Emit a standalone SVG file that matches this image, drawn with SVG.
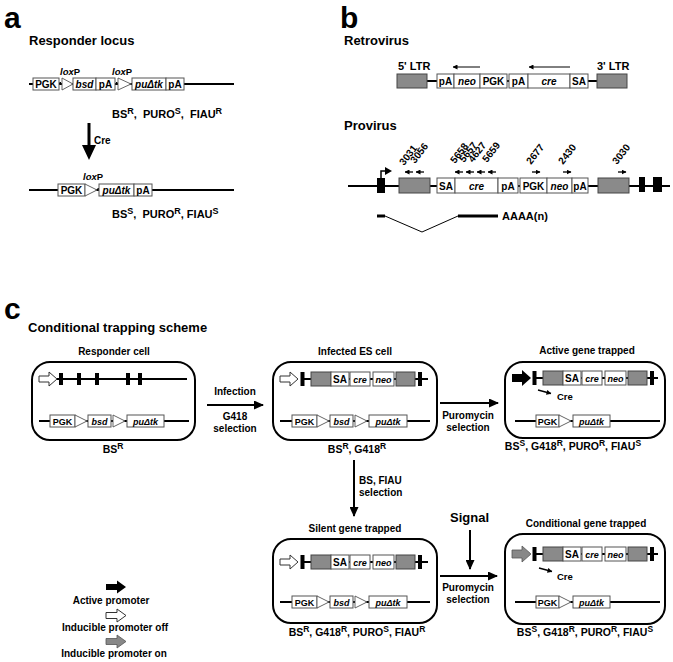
<svg xmlns="http://www.w3.org/2000/svg" width="673" height="662" viewBox="0 0 673 662">
<style>
text{font-family:"Liberation Sans",Arial,sans-serif;font-weight:bold;fill:#000}
.i{font-style:italic}
.m{text-anchor:middle}
.bx{fill:#fff;stroke:#555;stroke-width:1}
.gr{fill:#8a8a8a;stroke:#444;stroke-width:1}
.ln{stroke:#000;stroke-width:2;fill:none}
.tn{stroke:#000;stroke-width:1;fill:none}
.tri{fill:#fff;stroke:#555;stroke-width:0.9}
.cell{fill:none;stroke:#000;stroke-width:2}
.ex{fill:#000}
.bt{font-size:10px}
.ct{font-size:9px}
</style>
<defs>
<marker id="ah" viewBox="0 0 10 10" refX="9" refY="5" markerWidth="10" markerHeight="9" markerUnits="userSpaceOnUse" orient="auto" preserveAspectRatio="none"><path d="M0,0 L10,5 L0,10 z" fill="#000"/></marker>
<marker id="sm" viewBox="0 0 10 10" refX="9" refY="5" markerWidth="5" markerHeight="5" markerUnits="userSpaceOnUse" orient="auto" preserveAspectRatio="none"><path d="M0,0 L10,5 L0,10 z" fill="#000"/></marker>
</defs>

<!-- Panel a -->
<g id="panel-a">
<text x="4" y="28" font-size="30">a</text>
<text x="29" y="45" font-size="13">Responder locus</text>
<g id="locus1">
<line class="ln" x1="29" y1="84" x2="234" y2="84"/>
<rect class="bx" x="33" y="78" width="26" height="12"/>
<text class="m bt" x="46" y="88">PGK</text>
<rect class="ex" x="59.5" y="82" width="1.5" height="2"/>
<polygon class="tri" points="62,78 73,84 62,90"/>
<rect class="bx" x="73" y="78" width="23" height="12"/>
<text class="m bt i" x="84.5" y="88">bsd</text>
<rect class="bx" x="96" y="78" width="19" height="12"/>
<text class="m bt" x="105.5" y="88">pA</text>
<rect class="ex" x="116" y="82" width="1.5" height="2"/>
<polygon class="tri" points="118,78 131,84 118,90"/>
<rect class="bx" x="132" y="78" width="34" height="12"/>
<text class="m bt i" x="149" y="88">puΔtk</text>
<rect class="bx" x="166" y="78" width="18" height="12"/>
<text class="m bt" x="175" y="88">pA</text>
<text x="60" y="75" font-size="9.5"><tspan class="i">lox</tspan>P</text>
<text x="112" y="75" font-size="9.5"><tspan class="i">lox</tspan>P</text>
<text x="112" y="118" font-size="11" xml:space="preserve">BS<tspan dy="-4" font-size="9">R</tspan><tspan dy="4">,  PURO</tspan><tspan dy="-4" font-size="9">S</tspan><tspan dy="4">,  FIAU</tspan><tspan dy="-4" font-size="9">R</tspan></text>
</g>
<g id="cre-step">
<rect x="87.5" y="123" width="3" height="24" fill="#000"/>
<polygon points="82,145 96,145 89,160" fill="#000"/>
<text x="94" y="144" font-size="10">Cre</text>
</g>
<g id="locus2">
<line class="ln" x1="29" y1="190" x2="234" y2="190"/>
<rect class="bx" x="58" y="184" width="27" height="12"/>
<text class="m bt" x="71.5" y="194">PGK</text>
<polygon class="tri" points="85,184 97,190 85,196"/>
<rect class="ex" x="97.5" y="188" width="1.5" height="2"/>
<rect class="bx" x="99" y="184" width="35" height="12"/>
<text class="m bt i" x="116.5" y="194">puΔtk</text>
<rect class="bx" x="134" y="184" width="18" height="12"/>
<text class="m bt" x="143" y="194">pA</text>
<text x="83" y="180" font-size="9.5"><tspan class="i">lox</tspan>P</text>
<text x="112" y="218" font-size="11" xml:space="preserve">BS<tspan dy="-4" font-size="9">S</tspan><tspan dy="4">,  PURO</tspan><tspan dy="-4" font-size="9">R</tspan><tspan dy="4">, FIAU</tspan><tspan dy="-4" font-size="9">S</tspan></text>
</g>
</g>

<!-- Panel b -->
<g id="panel-b">
<text x="340" y="28" font-size="30">b</text>
<text x="344" y="45" font-size="13">Retrovirus</text>
<g id="retrovirus">
<text x="398" y="70" font-size="11">5' LTR</text>
<text x="597" y="70" font-size="11">3' LTR</text>
<line class="ln" x1="427" y1="81" x2="597" y2="81"/>
<rect class="gr" x="397" y="74" width="30" height="14"/>
<rect class="bx" x="437" y="74" width="17" height="14"/>
<text class="m bt" x="445.5" y="85">pA</text>
<rect class="bx" x="454" y="74" width="26" height="14"/>
<text class="m bt i" x="467" y="85">neo</text>
<rect class="bx" x="480" y="74" width="27" height="14"/>
<text class="m bt" x="493.5" y="85">PGK</text>
<rect class="bx" x="509" y="74" width="19" height="14"/>
<text class="m bt" x="518.5" y="85">pA</text>
<rect class="bx" x="528" y="74" width="42" height="14"/>
<text class="m bt i" x="549" y="85">cre</text>
<rect class="bx" x="570" y="74" width="18" height="14"/>
<text class="m bt" x="579" y="85">SA</text>
<rect class="gr" x="597" y="74" width="30" height="14"/>
<line class="tn" x1="480" y1="67" x2="453" y2="67" stroke-width="1.5" marker-end="url(#sm)"/>
<line class="tn" x1="570" y1="67" x2="529" y2="67" stroke-width="1.5" marker-end="url(#sm)"/>
</g>
<text x="344" y="130" font-size="13">Provirus</text>
<g id="provirus">
<line class="ln" x1="348" y1="186" x2="670" y2="186"/>
<rect class="ex" x="377" y="178" width="8" height="15"/>
<path d="M381,178 V171 H386" stroke="#000" stroke-width="1.5" fill="none"/>
<polygon points="385,167 392,171 385,175" fill="#000"/>
<rect class="gr" x="399" y="178" width="31" height="15"/>
<rect class="bx" x="437" y="178" width="18" height="15"/>
<text class="m bt" x="446" y="189.5">SA</text>
<rect class="bx" x="455" y="178" width="43" height="15"/>
<text class="m bt i" x="476.5" y="189.5">cre</text>
<rect class="bx" x="498" y="178" width="20" height="15"/>
<text class="m bt" x="508" y="189.5">pA</text>
<rect class="bx" x="520" y="178" width="27" height="15"/>
<text class="m bt" x="533.5" y="189.5">PGK</text>
<rect class="bx" x="547" y="178" width="25" height="15"/>
<text class="m bt i" x="559.5" y="189.5">neo</text>
<rect class="bx" x="572" y="178" width="16" height="15"/>
<text class="m bt" x="580" y="189.5">pA</text>
<rect class="gr" x="598" y="178" width="31" height="15"/>
<rect class="ex" x="639" y="177" width="6" height="15"/>
<rect class="ex" x="653" y="177" width="9" height="15"/>
<g stroke="#000" stroke-width="1.3">
<line x1="413" y1="172" x2="405" y2="172" marker-end="url(#sm)"/>
<line x1="424" y1="172" x2="416" y2="172" marker-end="url(#sm)"/>
<line x1="463" y1="172" x2="455" y2="172" marker-end="url(#sm)"/>
<line x1="474" y1="172" x2="466" y2="172" marker-end="url(#sm)"/>
<line x1="485" y1="172" x2="477" y2="172" marker-end="url(#sm)"/>
<line x1="496" y1="172" x2="488" y2="172" marker-end="url(#sm)"/>
<line x1="532" y1="172" x2="540" y2="172" marker-end="url(#sm)"/>
<line x1="563" y1="172" x2="571" y2="172" marker-end="url(#sm)"/>
<line x1="618" y1="172" x2="626" y2="172" marker-end="url(#sm)"/>
</g>
<g font-size="10">
<text transform="translate(404,166) rotate(-52)">3031</text>
<text transform="translate(415,164) rotate(-52)">3056</text>
<text transform="translate(455,164) rotate(-52)">5658</text>
<text transform="translate(464,163) rotate(-52)">5657</text>
<text transform="translate(473,163) rotate(-52)">4627</text>
<text transform="translate(487,163) rotate(-52)">5659</text>
<text transform="translate(531,165) rotate(-52)">2677</text>
<text transform="translate(563,165) rotate(-52)">2430</text>
<text transform="translate(617,165) rotate(-52)">3030</text>
</g>
<line x1="377" y1="216" x2="385" y2="216" stroke="#000" stroke-width="3"/>
<polyline points="385,216 422,232 458,216" fill="none" stroke="#000" stroke-width="1"/>
<line x1="458" y1="216" x2="498" y2="216" stroke="#000" stroke-width="3"/>
<text x="502" y="220" font-size="11">AAAA(n)</text>
</g>
</g>

<!-- Panel c -->
<text x="4" y="319" font-size="30">c</text>
<text x="28" y="332" font-size="13">Conditional trapping scheme</text>

<g id="responder-cell">
<text class="m bt" x="114" y="355">Responder cell</text>
<rect class="cell" x="32" y="362" width="163" height="78" rx="18"/>
<line class="ln" x1="57" y1="379" x2="187" y2="379"/>
<path d="M39,376 H49 V372 L57,379 L49,386 V382 H39 Z" fill="#fff" stroke="#333" stroke-width="1"/>
<rect class="ex" x="59" y="373" width="4" height="12"/>
<rect class="ex" x="77" y="373" width="4" height="12"/>
<rect class="ex" x="95" y="373" width="4" height="12"/>
<rect class="ex" x="126" y="373" width="4" height="12"/>
<rect class="ex" x="138" y="373" width="4" height="12"/>
<line class="ln" x1="39" y1="421" x2="189" y2="421"/>
<rect class="bx" x="50" y="415" width="25" height="12"/>
<text class="m ct" x="62.5" y="424.5">PGK</text>
<polygon class="tri" points="75,415 87,421 75,427"/>
<rect class="bx" x="88" y="415" width="23" height="12"/>
<text class="m ct i" x="99.5" y="424.5">bsd</text>
<polygon class="tri" points="113,415 125,421 113,427"/>
<rect class="bx" x="127" y="415" width="37" height="12"/>
<text class="m ct i" x="145.5" y="424.5">puΔtk</text>
<text class="m" x="113" y="453" font-size="10.5">BS<tspan dy="-4" font-size="8.5">R</tspan></text>
</g>

<g id="infected-es-cell">
<text class="m bt" x="355" y="355">Infected ES cell</text>
<rect class="cell" x="273" y="362" width="164" height="78" rx="18"/>
<line class="ln" x1="302" y1="379" x2="428" y2="379"/>
<path d="M280,376 H290 V372 L298,379 L290,386 V382 H280 Z" fill="#fff" stroke="#333" stroke-width="1"/>
<rect class="ex" x="300.5" y="372" width="4" height="14"/>
<rect class="gr" x="311" y="372" width="20" height="14"/>
<rect class="bx" x="331" y="372" width="18" height="14"/>
<text class="m bt" x="340" y="383">SA</text>
<rect class="bx" x="350" y="372" width="20" height="14"/>
<text class="m ct i" x="360" y="382.5">cre</text>
<rect class="bx" x="373" y="372" width="21" height="14"/>
<text class="m ct i" x="383.5" y="382.5">neo</text>
<rect class="gr" x="396" y="372" width="19" height="14"/>
<rect class="ex" x="418" y="372" width="4" height="14"/>
<line class="ln" x1="280" y1="421" x2="430" y2="421"/>
<rect class="bx" x="292" y="415" width="25" height="12"/>
<text class="m ct" x="304.5" y="424.5">PGK</text>
<polygon class="tri" points="317,415 329,421 317,427"/>
<rect class="bx" x="330" y="415" width="23" height="12"/>
<text class="m ct i" x="341.5" y="424.5">bsd</text>
<polygon class="tri" points="355,415 367,421 355,427"/>
<rect class="bx" x="369" y="415" width="38" height="12"/>
<text class="m ct i" x="388" y="424.5">puΔtk</text>
<text class="m" x="357" y="453" font-size="10.5">BS<tspan dy="-4" font-size="8.5">R</tspan><tspan dy="4">, G418</tspan><tspan dy="-4" font-size="8.5">R</tspan></text>
</g>

<g id="active-gene-trapped">
<text class="m bt" x="587" y="354">Active gene trapped</text>
<rect class="cell" x="505" y="362" width="160" height="76" rx="18"/>
<line class="ln" x1="534" y1="378" x2="658" y2="378"/>
<path d="M512,374 H522 V370 L531,378 L522,386 V382 H512 Z" fill="#000"/>
<rect class="ex" x="532.5" y="371" width="4" height="14"/>
<rect class="gr" x="543" y="371" width="20" height="14"/>
<rect class="bx" x="563" y="371" width="18" height="14"/>
<text class="m bt" x="572" y="382">SA</text>
<rect class="bx" x="582" y="371" width="20" height="14"/>
<text class="m ct i" x="592" y="381.5">cre</text>
<rect class="bx" x="605" y="371" width="21" height="14"/>
<text class="m ct i" x="615.5" y="381.5">neo</text>
<rect class="gr" x="628" y="371" width="19" height="14"/>
<rect class="ex" x="650" y="371" width="4" height="14"/>
<line x1="538" y1="390" x2="551" y2="393.5" stroke="#000" stroke-width="1.3" marker-end="url(#sm)"/>
<text x="557" y="400" font-size="9.5">Cre</text>
<line class="ln" x1="515" y1="421" x2="660" y2="421"/>
<rect class="bx" x="536" y="415" width="23" height="12"/>
<text class="m ct" x="547.5" y="424.5">PGK</text>
<polygon class="tri" points="559,415 571,421 559,427"/>
<rect class="bx" x="573" y="415" width="37" height="12"/>
<text class="m ct i" x="591.5" y="424.5">puΔtk</text>
<text class="m" x="573" y="450" font-size="10.5">BS<tspan dy="-4" font-size="8.5">S</tspan><tspan dy="4">, G418</tspan><tspan dy="-4" font-size="8.5">R</tspan><tspan dy="4">, PURO</tspan><tspan dy="-4" font-size="8.5">R</tspan><tspan dy="4">, FIAU</tspan><tspan dy="-4" font-size="8.5">S</tspan></text>
</g>

<g id="silent-gene-trapped">
<text class="m bt" x="355" y="532">Silent gene trapped</text>
<rect class="cell" x="273" y="539" width="164" height="84" rx="18"/>
<line class="ln" x1="302" y1="562" x2="428" y2="562"/>
<path d="M280,559 H290 V555 L298,562 L290,569 V565 H280 Z" fill="#fff" stroke="#333" stroke-width="1"/>
<rect class="ex" x="300.5" y="555" width="4" height="14"/>
<rect class="gr" x="311" y="555" width="20" height="14"/>
<rect class="bx" x="331" y="555" width="18" height="14"/>
<text class="m bt" x="340" y="566">SA</text>
<rect class="bx" x="350" y="555" width="20" height="14"/>
<text class="m ct i" x="360" y="565.5">cre</text>
<rect class="bx" x="373" y="555" width="21" height="14"/>
<text class="m ct i" x="383.5" y="565.5">neo</text>
<rect class="gr" x="396" y="555" width="19" height="14"/>
<rect class="ex" x="418" y="555" width="4" height="14"/>
<line class="ln" x1="280" y1="602" x2="430" y2="602"/>
<rect class="bx" x="292" y="596" width="25" height="12"/>
<text class="m ct" x="304.5" y="605.5">PGK</text>
<polygon class="tri" points="317,596 329,602 317,608"/>
<rect class="bx" x="330" y="596" width="23" height="12"/>
<text class="m ct i" x="341.5" y="605.5">bsd</text>
<polygon class="tri" points="355,596 367,602 355,608"/>
<rect class="bx" x="369" y="596" width="38" height="12"/>
<text class="m ct i" x="388" y="605.5">puΔtk</text>
<text class="m" x="357" y="636" font-size="10.5">BS<tspan dy="-4" font-size="8.5">R</tspan><tspan dy="4">, G418</tspan><tspan dy="-4" font-size="8.5">R</tspan><tspan dy="4">, PURO</tspan><tspan dy="-4" font-size="8.5">S</tspan><tspan dy="4">, FIAU</tspan><tspan dy="-4" font-size="8.5">R</tspan></text>
</g>

<g id="conditional-gene-trapped">
<text class="m bt" x="586" y="527">Conditional gene trapped</text>
<rect class="cell" x="505" y="534" width="160" height="90" rx="18"/>
<line class="ln" x1="534" y1="554" x2="658" y2="554"/>
<path d="M512,550 H522 V546 L531,554 L522,562 V558 H512 Z" fill="#888" stroke="#555" stroke-width="0.8"/>
<rect class="ex" x="532.5" y="547" width="4" height="14"/>
<rect class="gr" x="543" y="547" width="20" height="14"/>
<rect class="bx" x="563" y="547" width="18" height="14"/>
<text class="m bt" x="572" y="558">SA</text>
<rect class="bx" x="582" y="547" width="20" height="14"/>
<text class="m ct i" x="592" y="557.5">cre</text>
<rect class="bx" x="605" y="547" width="21" height="14"/>
<text class="m ct i" x="615.5" y="557.5">neo</text>
<rect class="gr" x="628" y="547" width="19" height="14"/>
<rect class="ex" x="650" y="547" width="4" height="14"/>
<line x1="539" y1="568" x2="552" y2="571.5" stroke="#000" stroke-width="1.3" marker-end="url(#sm)"/>
<text x="557" y="580" font-size="9.5">Cre</text>
<line class="ln" x1="515" y1="602" x2="660" y2="602"/>
<rect class="bx" x="536" y="596" width="23" height="12"/>
<text class="m ct" x="547.5" y="605.5">PGK</text>
<polygon class="tri" points="559,596 571,602 559,608"/>
<rect class="bx" x="573" y="596" width="37" height="12"/>
<text class="m ct i" x="591.5" y="605.5">puΔtk</text>
<text class="m" x="585" y="636" font-size="10.5">BS<tspan dy="-4" font-size="8.5">S</tspan><tspan dy="4">, G418</tspan><tspan dy="-4" font-size="8.5">R</tspan><tspan dy="4">, PURO</tspan><tspan dy="-4" font-size="8.5">R</tspan><tspan dy="4">, FIAU</tspan><tspan dy="-4" font-size="8.5">S</tspan></text>
</g>

<g id="connectors">
<line class="ln" x1="207" y1="405" x2="263" y2="405" marker-end="url(#ah)"/>
<text class="m bt" x="235" y="395">Infection</text>
<text class="m bt" x="235" y="420">G418</text>
<text class="m bt" x="235" y="432">selection</text>
<line class="ln" x1="440" y1="403" x2="498" y2="403" marker-end="url(#ah)"/>
<text class="m bt" x="468" y="419">Puromycin</text>
<text class="m bt" x="468" y="431">selection</text>
<line class="ln" x1="354" y1="460" x2="354" y2="516" marker-end="url(#ah)"/>
<text class="bt" x="359" y="484">BS, FIAU</text>
<text class="bt" x="359" y="496">selection</text>
<text x="450" y="522" font-size="13">Signal</text>
<line class="ln" x1="470" y1="530" x2="470" y2="569" marker-end="url(#ah)"/>
<line class="ln" x1="440" y1="576" x2="497" y2="576" marker-end="url(#ah)"/>
<text class="m bt" x="468" y="591">Puromycin</text>
<text class="m bt" x="468" y="603">selection</text>
</g>

<g id="legend">
<path d="M106,584 H117 V580.5 L126,587 L117,593.5 V590 H106 Z" fill="#000"/>
<text class="m bt" x="111" y="604">Active promoter</text>
<path d="M106,612.5 H117 V609 L126,615.5 L117,622 V618.5 H106 Z" fill="#fff" stroke="#333" stroke-width="1"/>
<text class="m bt" x="115" y="631">Inducible promoter off</text>
<path d="M106,638.5 H117 V635 L126,641.5 L117,648 V644.5 H106 Z" fill="#888" stroke="#555" stroke-width="0.8"/>
<text class="m bt" x="114" y="657">Inducible promoter on</text>
</g>
</svg>
